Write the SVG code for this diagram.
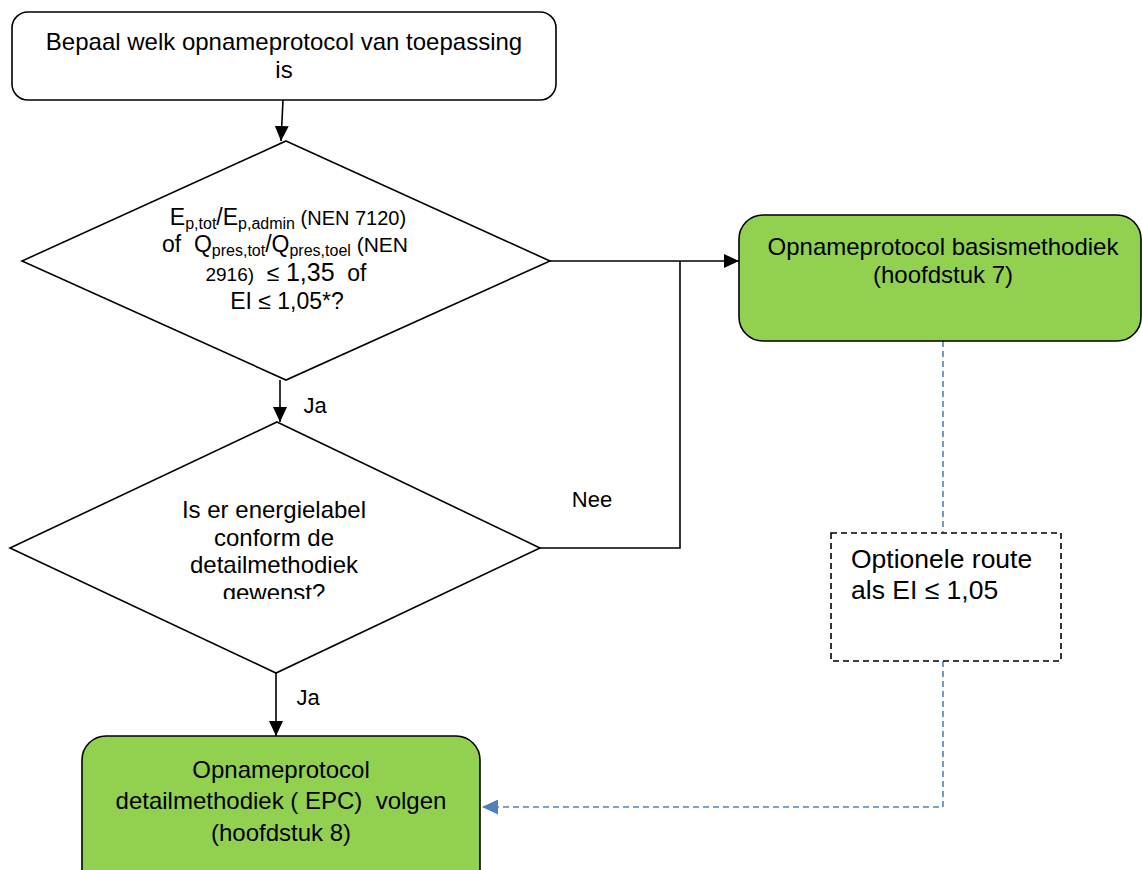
<svg xmlns="http://www.w3.org/2000/svg" width="1142" height="870" viewBox="0 0 1142 870">
<style>
text{font-family:"Liberation Sans",Arial,sans-serif;fill:#000}
.t{font-size:24px;text-anchor:middle}
.box{stroke:#000;stroke-width:1.6}
.green{fill:#92d050}
.white{fill:#fff}
.c{fill:none;stroke:#000;stroke-width:1.6}
.b{fill:none;stroke:#4f81bd;stroke-width:1.6;stroke-dasharray:6 4}
.sub{font-size:16px}
.lbl{font-size:22px;text-anchor:middle}
</style>
<defs>
<marker id="ah" markerWidth="15" markerHeight="14" refX="15" refY="7" orient="auto" markerUnits="userSpaceOnUse"><path d="M0,0 L15,7 L0,14 Z" fill="#000"/></marker>
<marker id="ahb" markerWidth="16" markerHeight="15" refX="16" refY="7.5" orient="auto" markerUnits="userSpaceOnUse"><path d="M0,0 L16,7.5 L0,15 Z" fill="#4f81bd"/></marker>
<clipPath id="clipD2"><rect x="0" y="400" width="600" height="199"/></clipPath>
</defs>
<rect width="1142" height="870" fill="#fff"/>
<g id="connectors">
<line class="c" x1="283" y1="100" x2="281" y2="141" marker-end="url(#ah)"/>
<line class="c" x1="280" y1="380" x2="280" y2="422" marker-end="url(#ah)"/>
<line class="c" x1="276" y1="673" x2="276" y2="736" marker-end="url(#ah)"/>
<line class="c" x1="550" y1="261" x2="739" y2="261" marker-end="url(#ah)"/>
<polyline class="c" points="540,548 680,548 680,261"/>
<line class="b" x1="943" y1="341" x2="943" y2="532"/>
<polyline class="b" points="943,661 943,807 482,807" marker-end="url(#ahb)"/>
<text x="315" y="413" class="lbl">Ja</text>
<text x="308" y="705" class="lbl">Ja</text>
<text x="592" y="507" class="lbl">Nee</text>
</g>
<g id="start">
<rect class="box white" x="12" y="12" width="544" height="88" rx="16"/>
<text class="t" x="284" y="50">Bepaal welk opnameprotocol van toepassing</text>
<text class="t" x="284" y="78">is</text>
</g>
<g id="decision1">
<polygon class="box white" points="286,141 550,261 286,380 22,261"/>
<text x="288" y="225" text-anchor="middle" style="font-size:23px" xml:space="preserve">E<tspan class="sub" dy="4">p,tot</tspan><tspan dy="-4">/E</tspan><tspan class="sub" dy="4">p,admin</tspan><tspan dy="-4" style="font-size:20px"> (NEN 7120)</tspan></text>
<text x="285" y="252" text-anchor="middle" style="font-size:23px" xml:space="preserve">of  Q<tspan class="sub" dy="4">pres,tot</tspan><tspan dy="-4">/Q</tspan><tspan class="sub" dy="4">pres,toel</tspan><tspan dy="-4" style="font-size:21px"> (NEN</tspan></text>
<text x="286" y="281" text-anchor="middle" style="font-size:23px" xml:space="preserve"><tspan style="font-size:19px">2916)</tspan>  ≤ <tspan style="font-size:25px">1,35</tspan>  of</text>
<text x="287" y="309" text-anchor="middle" style="font-size:23px">EI ≤ 1,05*?</text>
</g>
<g id="decision2">
<polygon class="box white" points="277,422 540,548 276,673 10,548"/>
<g clip-path="url(#clipD2)">
<text class="t" x="274" y="518">Is er energielabel</text>
<text class="t" x="274" y="546">conform de</text>
<text class="t" x="274" y="573">detailmethodiek</text>
<text class="t" x="274" y="601">gewenst?</text>
</g>
</g>
<g id="basis">
<rect class="box green" x="739" y="215" width="402" height="126" rx="24"/>
<text class="t" x="943" y="255">Opnameprotocol basismethodiek</text>
<text class="t" x="943" y="283">(hoofdstuk 7)</text>
</g>
<g id="optioneel">
<rect x="831" y="533" width="230" height="128" fill="#fff" stroke="#000" stroke-width="1.6" stroke-dasharray="6 4"/>
<text x="851" y="568" style="font-size:26.5px">Optionele route</text>
<text x="851" y="599" style="font-size:26.5px">als EI ≤ 1,05</text>
</g>
<g id="detail">
<rect class="box green" x="82" y="736" width="398" height="160" rx="24"/>
<text class="t" x="281" y="778">Opnameprotocol</text>
<text class="t" x="281" y="809" xml:space="preserve">detailmethodiek ( EPC)  volgen</text>
<text class="t" x="281" y="841">(hoofdstuk 8)</text>
</g>
</svg>
